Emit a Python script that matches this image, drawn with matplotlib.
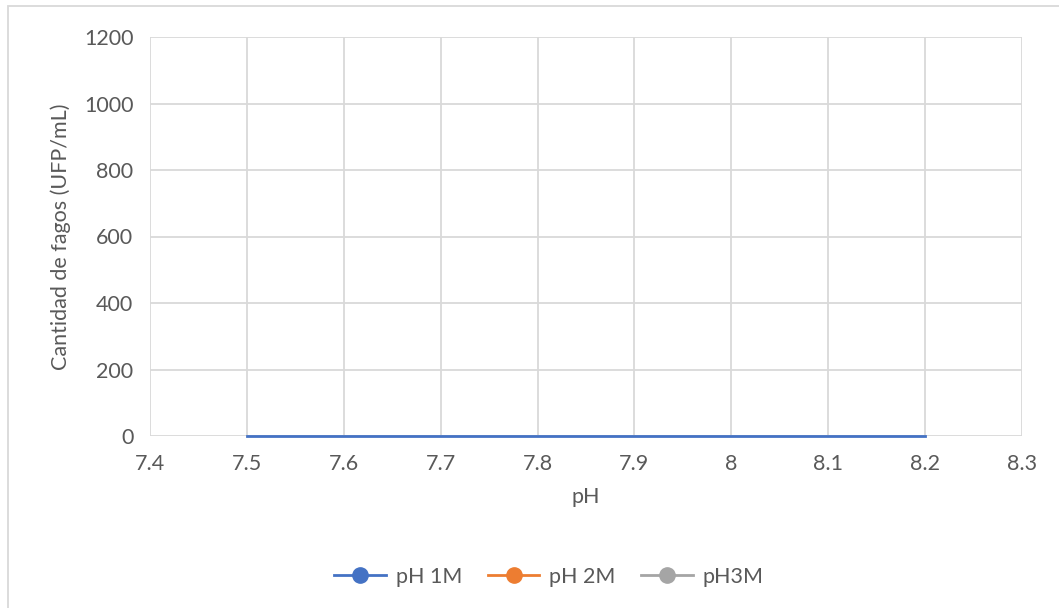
import matplotlib
matplotlib.use("Agg")
import matplotlib.pyplot as plt
from matplotlib.lines import Line2D
from matplotlib.patches import Rectangle

# Data
ph_values = [7.5, 7.6, 7.7, 7.8, 7.9, 8.0, 8.1, 8.2]
ph1m_counts = [0, 0, 0, 0, 0, 0, 0, 0]
ph2m_counts = []
ph3m_counts = []
series_names = ["pH 1M", "pH 2M", "pH3M"]
x_ticks = [7.4, 7.5, 7.6, 7.7, 7.8, 7.9, 8.0, 8.1, 8.2, 8.3]
x_tick_labels = ["7.4", "7.5", "7.6", "7.7", "7.8", "7.9", "8", "8.1", "8.2", "8.3"]
y_ticks = [0, 200, 400, 600, 800, 1000, 1200]

colors = ["#4472C4", "#ED7D31", "#A5A5A5"]
text_color = "#595959"
grid_color = "#D9D9D9"

plt.rcParams['font.family'] = ['Lato', 'DejaVu Sans']
FS = 15.5

W, H = 1059, 608
fig = plt.figure(figsize=(W / 100, H / 100), dpi=100)
ax = fig.add_axes([150 / W, 1 - 436 / H, (1022 - 150) / W, (436 - 37) / H])

ax.plot(ph_values, ph1m_counts, color=colors[0], lw=2.0, zorder=3, clip_on=False)
ax.plot(ph_values[:len(ph2m_counts)], ph2m_counts, color=colors[1], lw=2.0, zorder=3, clip_on=False)
ax.plot(ph_values[:len(ph3m_counts)], ph3m_counts, color=colors[2], lw=2.0, zorder=3, clip_on=False)

ax.set_xlim(7.4, 8.3)
ax.set_ylim(0, 1200)
ax.set_xticks(x_ticks)
ax.set_xticklabels(x_tick_labels)
ax.set_yticks(y_ticks)
ax.grid(True, color=grid_color, lw=1.3, zorder=0)
ax.set_axisbelow(True)
for s in ax.spines.values():
    s.set_visible(False)
ax.tick_params(length=0, labelsize=FS, colors=text_color, pad=12)
ax.tick_params(axis='x', pad=13)
ax.set_xlabel("pH", fontsize=FS, color=text_color, labelpad=9)
ax.set_ylabel("Cantidad de fagos (UFP/mL)", fontsize=FS, color=text_color, labelpad=9)

handles = [Line2D([0], [0], color=c, lw=2, marker='o', markersize=11,
                  markerfacecolor=c, markeredgecolor=c) for c in colors]
fig.legend(handles, series_names, loc='center', bbox_to_anchor=(549 / W, 1 - 577 / H),
           ncol=3, frameon=False, fontsize=FS, labelcolor=text_color,
           handlelength=2.4, columnspacing=1.2, handletextpad=0.45)

fig.patches.append(Rectangle((8 / W, -0.05), 1.1, 1 - 6 / H + 0.05, transform=fig.transFigure,
                             fill=False, edgecolor="#D9D9D9", lw=1.3))

fig.savefig("out.png", dpi=100)
